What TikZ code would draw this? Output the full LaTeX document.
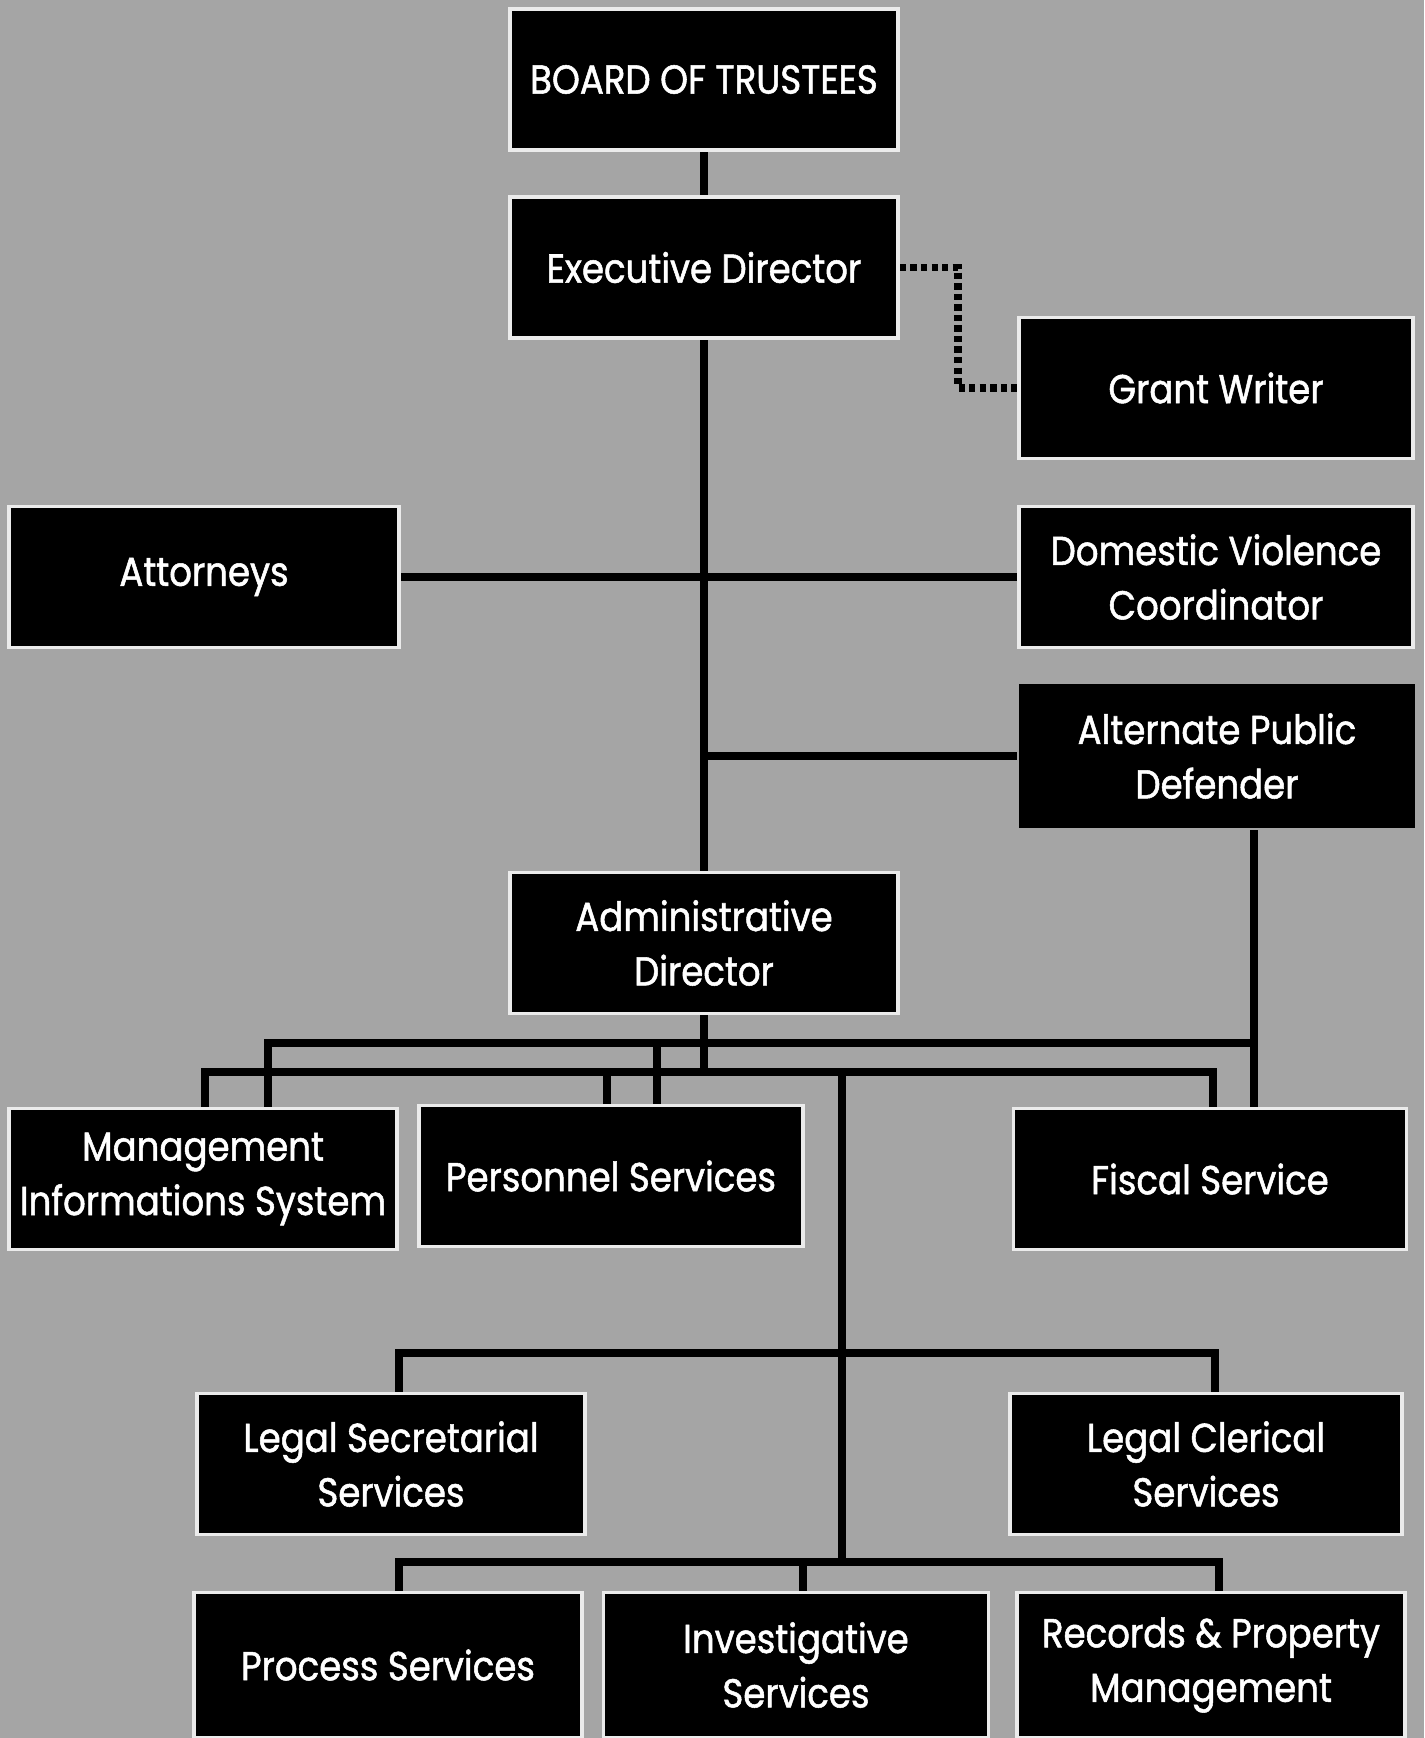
\documentclass[tikz,border=0pt]{standalone}
\usepackage{fontspec}
\setmainfont{Poppins}[FakeStretch=0.88, FakeBold=1.3]
\definecolor{bgray}{RGB}{165,165,165}
\definecolor{edge}{RGB}{235,235,235}
\pgfdeclarelayer{back}
\pgfsetlayers{back,main}
\begin{document}
\begin{tikzpicture}[x=0.02cm,y=-0.02cm,
  box/.style={draw=edge, line width=2.2pt, fill=black, text=white,
    minimum width=7.76cm, minimum height=2.82cm, align=center, inner sep=2pt,
    font=\fontsize{23}{31}\selectfont},
  conn/.style={line width=4.5pt, black, line join=miter},
  dotline/.style={line width=4.5pt, black, dash pattern=on 3.6pt off 2.4pt}]
\useasboundingbox (0,0) rectangle (1424,1738);

\node[box] (board) at (704,79.5) {BOARD OF TRUSTEES};
\node[box] (ed) at (704,267.5) {Executive Director};
\node[box, minimum width=7.88cm] (gw) at (1216,388) {Grant Writer};
\node[box, minimum width=7.8cm] (att) at (204,577) {Attorneys};
\node[box, minimum width=7.88cm] (dvc) at (1216,577) {Domestic Violence\\Coordinator};
\node[box, draw=none, minimum width=7.94cm, minimum height=2.9cm] (apd) at (1217,756) {Alternate Public\\Defender};
\node[box] (ad) at (704,943) {Administrative\\Director};
\node[box] (mis) at (203,1179) {Management\\Informations System};
\node[box, minimum width=7.68cm] (ps) at (611,1176) {Personnel Services};
\node[box, minimum width=7.86cm] (fs) at (1210,1179) {Fiscal Service};
\node[box] (lss) at (391,1464) {Legal Secretarial\\Services};
\node[box, minimum width=7.84cm] (lcs) at (1206,1464) {Legal Clerical\\Services};
\node[box, minimum height=2.9cm] (proc) at (388,1665) {Process Services};
\node[box, minimum width=7.7cm, minimum height=2.9cm] (inv) at (796,1665) {Investigative\\Services};
\node[box, minimum height=2.9cm] (rec) at (1211,1665) {Records \& Property\\Management};

\coordinate (d2) at (958,388);
\coordinate (a1) at (1254,1043);
\coordinate (u1) at (268,1043);
\coordinate (u2) at (657,1043);
\coordinate (l1) at (205,1072);
\coordinate (l2) at (607,1072);
\coordinate (l3) at (1213,1072);
\coordinate (lv) at (842,1072);
\coordinate (g1) at (399,1353);
\coordinate (g2) at (1215,1353);
\coordinate (p1) at (399,1562);
\coordinate (p2) at (803,1562);
\coordinate (p3) at (1219,1562);

\begin{pgfonlayer}{back}
\fill[bgray] (0,0) rectangle (1424,1738);
\draw[conn] (board) -- (ed);
\draw[conn] (ed) -- (ad);
\draw[conn] (att) -- (dvc);
\draw[conn] (ed.south |- apd.west) -- (apd.west);
\draw[dotline] (ed.east) -| (d2) -- (gw.west);
\draw[conn] (a1 |- apd.south) -- (a1 |- fs.north);
\draw[conn] (u1 |- mis.north) -- (u1) -- (a1);
\draw[conn] (u2) -- (u2 |- ps.north);
\draw[conn] (ad) -- (ad.south |- l1);
\draw[conn] (l1 |- mis.north) -- (l1) -- (l3) -- (l3 |- fs.north);
\draw[conn] (l2) -- (l2 |- ps.north);
\draw[conn] (lv) -- (lv |- p1);
\draw[conn] (g1 |- lss.north) -- (g1) -- (g2) -- (g2 |- lcs.north);
\draw[conn] (p1 |- proc.north) -- (p1) -- (p3) -- (p3 |- rec.north);
\draw[conn] (p2) -- (p2 |- inv.north);
\end{pgfonlayer}
\end{tikzpicture}
\end{document}
